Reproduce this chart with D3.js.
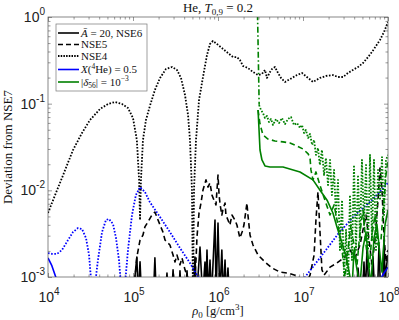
<!DOCTYPE html>
<html><head><meta charset="utf-8">
<script src="https://cdn.jsdelivr.net/npm/d3@7/dist/d3.min.js"></script>
<style>body{margin:0;background:#fff}svg{display:block}</style>
</head><body><svg id="c" width="399" height="320"></svg>
<script>
// ---------- data ----------
const xTickVals = [1e4, 1e5, 1e6, 1e7, 1e8];
const xTickExps = ["4", "5", "6", "7", "8"];
const yTickVals = [1, 1e-1, 1e-2, 1e-3];
const yTickExps = ["0", "-1", "-2", "-3"];

// NSE4 (black dotted)
const nse4 = [[1e4,5.48e-3],[1.21e4,8.8e-3],[1.46e4,1.39e-2],[1.97e4,2.92e-2],[2.51e4,4.59e-2],[3.12e4,6.48e-2],[4.09e4,8.68e-2],[5.08e4,9.91e-2],[6.14e4,0.1045],[7.42e4,9.91e-2],[8.73e4,8.91e-2],[1e5,6.83e-2],[1.11e5,3.81e-2],[1.18e5,1.32e-2],[1.21e5,4.55e-3],[1.24e5,1.32e-2],[1.31e5,3.81e-2],[1.42e5,6.48e-2],[1.58e5,9.4e-2],[1.81e5,0.144],[2.08e5,0.198],[2.44e5,0.251],[2.88e5,0.265],[3.29e5,0.245],[3.67e5,0.198],[4.09e5,0.126],[4.44e5,7.4e-2],[4.68e5,3.81e-2],[4.94e5,1.01e-2],[5.08e5,5.4e-4],[5.22e5,1.01e-2],[5.51e5,3.81e-2],[5.98e5,0.110],[6.66e5,0.203],[7.42e5,0.364],[8.05e5,0.488],[8.73e5,0.529],[9.73e5,0.488],[1.11e6,0.439],[1.31e6,0.384],[1.5e6,0.345],[1.67e6,0.345],[1.81e6,0.319],[1.97e6,0.272],[2.25e6,0.258],[2.58e6,0.232],[2.96e6,0.214],[3.29e6,0.220],[3.57e6,0.245],[3.77e6,0.198],[4.09e6,0.232],[4.32e6,0.251],[4.68e6,0.265],[5.08e6,0.226],[5.51e6,0.198],[6.14e6,0.178],[7.42e6,0.198],[8.5e6,0.214],[9.73e6,0.226],[1.11e7,0.203],[1.31e7,0.178],[1.58e7,0.198],[1.87e7,0.209],[2.25e7,0.214],[2.58e7,0.203],[2.96e7,0.203],[3.38e7,0.226],[3.87e7,0.245],[4.44e7,0.265],[5.08e7,0.294],[5.82e7,0.345],[6.48e7,0.395],[7.22e7,0.463],[8.05e7,0.543],[8.97e7,0.671],[1e8,0.876]];

// NSE5 (black dashed)
const nse5 = [[1.03e5,7.1e-4],[1.11e5,1.70e-3],[1.21e5,2.67e-3],[1.31e5,3.05e-3],[1.38e5,3.78e-3],[1.5e5,4.31e-3],[1.67e5,5.19e-3],[1.81e5,5.62e-3],[1.97e5,4.55e-3],[2.08e5,3.98e-3],[2.25e5,3.30e-3],[2.38e5,2.67e-3],[2.72e5,2.34e-3],[2.96e5,1.79e-3],[3.12e5,1.49e-3],[3.29e5,1.79e-3],[3.57e5,1.38e-3],[3.77e5,1.66e-3],[4.09e5,1.21e-3],[4.44e5,9.7e-4],[4.81e5,7.1e-4],[5.22e5,7.1e-4],[5.51e5,1.57e-3],[5.66e5,2.90e-3],[5.98e5,5.48e-3],[6.31e5,7.14e-3],[6.66e5,1.01e-2],[7.22e5,1.32e-2],[7.63e5,1.09e-2],[8.05e5,1.22e-2],[8.5e5,8.8e-3],[8.97e5,7.7e-3],[9.47e5,6.8e-3],[1e6,1.50e-2],[1.03e6,8.8e-3],[1.06e6,6.8e-3],[1.11e6,5.19e-3],[1.14e6,5.93e-3],[1.21e6,7.14e-3],[1.24e6,5.19e-3],[1.31e6,4.55e-3],[1.38e6,3.98e-3],[1.46e6,5.19e-3],[1.58e6,4.55e-3],[1.67e6,3.98e-3],[1.81e6,2.82e-3],[1.92e6,3.30e-3],[2.02e6,3.98e-3],[2.19e6,7.14e-3],[2.25e6,5.19e-3],[2.38e6,3.05e-3],[2.58e6,2.34e-3],[2.96e6,1.79e-3],[3.57e6,1.49e-3],[4.32e6,1.27e-3],[5.36e6,1.14e-3],[6.66e6,1.11e-3],[8.05e6,1.05e-3],[9.22e6,9.7e-4],[1.06e7,8.1e-4],[1.21e7,1.05e-3],[1.35e7,1.79e-3],[1.42e7,4.55e-3],[1.5e7,9.6e-3],[1.58e7,3.49e-3],[1.67e7,1.21e-3],[1.77e7,1.05e-3],[2.08e7,1.30e-3],[2.51e7,1.45e-3],[3.12e7,1.70e-3],[3.57e7,2.05e-3],[4.09e7,1.66e-3],[4.68e7,2.34e-3],[5.08e7,3.49e-3],[5.51e7,5.19e-3],[5.98e7,2.67e-3],[6.48e7,1.38e-3],[7.03e7,2.67e-3],[7.63e7,7.7e-3],[8.05e7,1.81e-2],[8.5e7,1.01e-2],[8.97e7,3.05e-3],[9.47e7,1.49e-3],[1e8,2.05e-3]];

// NSE6, A-bar = 20 (black solid): two visible stretches
const nse6Low = [[1.0e5,6e-4],[1.11e5,1.7e-3],[1.15e5,6e-4],[1.21e5,1.5e-3],[1.26e5,6e-4],[1.74e5,6e-4],[1.81e5,1.66e-3],[1.88e5,6e-4],[2.4e5,6e-4],[2.51e5,1.11e-3],[2.62e5,6e-4],[2.85e5,6e-4],[2.96e5,1.21e-3],[3.1e5,6e-4],[3.45e5,6e-4],[3.57e5,1.18e-3],[3.7e5,6e-4],[4.15e5,6e-4],[4.32e5,1.18e-3],[4.5e5,6e-4],[5.15e5,6e-4],[5.36e5,1.7e-3],[5.6e5,6e-4],[6.14e5,2.22e-3],[6.6e5,6e-4],[7.03e5,1.49e-3],[7.2e5,6e-4],[7.42e5,2.05e-3],[7.7e5,6e-4],[8.05e5,1.57e-3],[8.4e5,6e-4],[9.22e5,4.55e-3],[9.5e5,6e-4],[1.0e6,4.19e-3],[1.05e6,6e-4],[1.11e6,2.05e-3],[1.15e6,6e-4],[1.21e6,1.57e-3],[1.25e6,6e-4],[1.31e6,1.27e-3],[1.36e6,6e-4]];
const nse6High = [[4.2e7,6e-4],[4.44e7,1.27e-3],[4.7e7,6e-4],[5.0e7,6e-4],[5.22e7,1.49e-3],[5.4e7,6e-4],[5.66e7,2.05e-3],[6.0e7,6e-4],[6.3e7,6e-4],[6.66e7,1.66e-3],[7.0e7,6e-4],[7.5e7,6e-4],[7.84e7,2.34e-3],[8.2e7,6e-4],[8.6e7,6e-4],[8.97e7,2.67e-3],[9.3e7,8e-4],[9.47e7,1.21e-3],[1e8,1.79e-3]];

// X(4He) = 0.5 (blue)
const heSolidLow = [[1e4,1.66e-3],[1.11e4,1.35e-3],[1.28e4,9e-4],[1.4e4,6e-4]];
const heSolidHigh = [[7.8e7,6e-4],[8.4e7,1e-3],[1e8,1.3e-3]];
const heDottedLow = [[1e4,1.89e-3],[1.11e4,1.85e-3],[1.28e4,1.85e-3],[1.46e4,2.05e-3],[1.72e4,2.67e-3],[1.97e4,3.30e-3],[2.25e4,3.67e-3],[2.51e4,3.58e-3],[2.8e4,2.82e-3],[3.04e4,1.79e-3],[3.21e4,9.3e-4],[3.38e4,5.4e-4],[3.57e4,8.1e-4],[3.87e4,1.57e-3],[4.32e4,3.30e-3],[4.81e4,4.55e-3],[5.22e4,4.67e-3],[5.82e4,4.09e-3],[6.31e4,2.82e-3],[6.84e4,1.57e-3],[7.22e4,8.1e-4],[7.63e4,5.4e-4],[8.05e4,8.1e-4],[8.73e4,2.05e-3],[9.73e4,5.19e-3],[1.08e5,8.8e-3],[1.21e5,1.09e-2],[1.38e5,9.6e-3],[1.58e5,7.3e-3],[2.08e5,4.92e-3],[2.72e5,3.30e-3],[3.57e5,2.16e-3],[4.68e5,1.45e-3],[5.82e5,1.0e-3],[7.03e5,7.1e-4]];
const heDottedHigh = [[9.22e6,7.1e-4],[1.06e7,1.0e-3],[1.58e7,1.66e-3],[2.58e7,3.13e-3],[4.09e7,5.19e-3],[6.48e7,7.7e-3],[1e8,1.22e-2]];

// |delta56| = 1e-3 (green)
const dSolid = [[2.96e6,8.45e-2],[3.04e6,4.97e-2],[3.12e6,2.92e-2],[3.29e6,2.24e-2],[3.57e6,1.91e-2],[4.09e6,1.86e-2],[5.82e6,1.86e-2],[9.22e6,1.63e-2],[1.31e7,1.32e-2],[1.58e7,1.01e-2],[1.92e7,7.7e-3],[2.25e7,5.48e-3],[2.51e7,3.78e-3],[2.88e7,2.47e-3],[3.29e7,1.57e-3],[3.57e7,1.0e-3],[3.77e7,7.1e-4],[3.98e7,2.05e-3],[4.32e7,1.21e-3],[4.68e7,8.1e-4],[5.08e7,2.16e-3],[5.51e7,3.30e-3],[5.98e7,1.27e-3],[6.31e7,8.1e-4],[6.84e7,2.82e-3],[7.42e7,3.98e-3],[8.05e7,1.79e-3],[8.5e7,1.14e-3],[9.22e7,3.98e-3],[1e8,5.93e-3]];
const dDashed = [[2.96e6,8.45e-2],[3.12e6,5.82e-2],[3.38e6,4.35e-2],[3.87e6,3.91e-2],[4.68e6,3.71e-2],[5.82e6,3.62e-2],[7.03e6,3.52e-2],[8.5e6,3.25e-2],[1e7,3.0e-2],[1.15e7,2.63e-2],[1.21e7,2.36e-2],[1.24e7,1.72e-2],[1.31e7,1.32e-2],[1.42e7,1.63e-2],[1.58e7,1.15e-2],[1.81e7,7.7e-3],[2.08e7,5.19e-3],[2.32e7,6.8e-3],[2.58e7,3.98e-3],[2.88e7,2.05e-3],[3.12e7,1.0e-3],[3.38e7,2.05e-3],[3.67e7,3.98e-3],[3.98e7,2.34e-3],[4.32e7,1.38e-3],[4.68e7,3.30e-3],[5.08e7,5.93e-3],[5.51e7,2.34e-3],[5.98e7,1.21e-3],[6.48e7,3.05e-3],[7.03e7,5.19e-3],[7.63e7,2.34e-3],[8.27e7,2.67e-3],[8.97e7,7.7e-3],[9.47e7,1.5e-2],[1e8,2.24e-2]];
const dDotted = [[3.04e6,9.65e-2],[3.21e6,8.45e-2],[3.38e6,7.8e-2],[3.57e6,6.83e-2],[3.77e6,7.21e-2],[3.98e6,6.14e-2],[4.2e6,6.65e-2],[4.44e6,5.68e-2],[4.81e6,6.65e-2],[5.22e6,5.98e-2],[5.66e6,6.83e-2],[6.14e6,5.8e-2],[6.66e6,6.65e-2],[7.22e6,7.02e-2],[7.84e6,5.68e-2],[8.5e6,5.98e-2],[9.22e6,5.24e-2],[9.73e6,5.68e-2],[1.03e7,4.59e-2],[1.08e7,4.97e-2],[1.15e7,4.02e-2],[1.21e7,4.47e-2],[1.28e7,3.34e-2],[1.35e7,3.81e-2],[1.42e7,2.56e-2],[1.5e7,3.08e-2],[1.58e7,1.96e-2],[1.67e7,2.92e-2],[1.77e7,1.5e-2],[1.86e7,2.36e-2],[1.97e7,1.15e-2],[2.08e7,2.24e-2],[2.19e7,8.8e-3],[2.32e7,1.72e-2],[2.44e7,5.19e-3],[2.58e7,1.32e-2],[2.72e7,2.05e-3],[2.88e7,7.7e-3],[3.04e7,1.0e-3],[3.21e7,3.49e-3],[3.38e7,7.1e-4],[3.57e7,8.8e-3],[3.77e7,1.57e-3],[3.98e7,1.96e-2],[4.2e7,2.05e-3],[4.44e7,1.5e-2],[4.68e7,2.67e-3],[4.94e7,2.24e-2],[5.22e7,3.98e-3],[5.51e7,1.96e-2],[5.82e7,2.05e-3],[6.14e7,2.56e-2],[6.48e7,2.67e-3],[6.84e7,2.24e-2],[7.22e7,2.05e-3],[7.63e7,1.72e-2],[8.05e7,7.7e-3],[8.5e7,2.42e-2],[8.97e7,5.19e-3],[9.47e7,2.24e-2],[1e8,2.56e-2]];
const dDashDot = [[2.9e6,1.5],[2.98e6,0.35],[3.05e6,9.7e-2]];

// ---------- drawing ----------
const svg = d3.select("#c");
const L = 48, R = 388, T = 17, B = 277;
const x = d3.scaleLog().domain([1e4, 1e8]).range([L, R]);
const y = d3.scaleLog().domain([1e-3, 1]).range([B, T]);
const SANS = "'Liberation Sans', Arial, sans-serif";
const SERIF = "'Liberation Serif', 'Times New Roman', serif";
const BLUE = "#0000ff", GREEN = "#008000";

svg.append("rect").attr("width", 399).attr("height", 320).attr("fill", "#fff");
svg.append("defs").append("clipPath").attr("id", "clip")
  .append("rect").attr("x", L).attr("y", T).attr("width", R - L).attr("height", B - T);

// ticks
function minors(lo, hi) {
  const out = [];
  for (let e = lo; e < hi; e++) for (let k = 2; k <= 9; k++) out.push(k * Math.pow(10, e));
  return out;
}
const xMin = minors(4, 8), yMin = minors(-3, 0);
function drawAxis(axis, tr, vals, size) {
  const g = svg.append("g").attr("transform", tr)
    .call(axis.tickValues(vals).tickSize(size).tickFormat(""));
  g.select(".domain").remove();
  g.selectAll("line").attr("stroke", "#555").attr("stroke-width", 0.6);
}
drawAxis(d3.axisBottom(x), `translate(0,${B})`, xTickVals, -4);
drawAxis(d3.axisBottom(x), `translate(0,${B})`, xMin, -2.5);
drawAxis(d3.axisTop(x), `translate(0,${T})`, xTickVals, -4);
drawAxis(d3.axisTop(x), `translate(0,${T})`, xMin, -2.5);
drawAxis(d3.axisLeft(y), `translate(${L},0)`, yTickVals, -4);
drawAxis(d3.axisLeft(y), `translate(${L},0)`, yMin, -2.5);
drawAxis(d3.axisRight(y), `translate(${R},0)`, yTickVals, -4);
drawAxis(d3.axisRight(y), `translate(${R},0)`, yMin, -2.5);

// tick labels
xTickVals.forEach((v, i) => {
  const t = svg.append("text").attr("x", x(v) + 1).attr("y", 302)
    .attr("text-anchor", "middle").attr("font-family", SANS).attr("font-size", 14).attr("fill", "#222");
  t.append("tspan").text("10");
  t.append("tspan").attr("dy", -7).attr("font-size", 10).text(xTickExps[i]);
});
yTickVals.forEach((v, i) => {
  const t = svg.append("text").attr("x", 45).attr("y", y(v) + 5)
    .attr("text-anchor", "end").attr("font-family", SANS).attr("font-size", 14).attr("fill", "#222");
  t.append("tspan").text("10");
  t.append("tspan").attr("dy", -7).attr("font-size", 10).text(yTickExps[i]);
});

// lines
const line = d3.line().x(d => x(d[0])).y(d => y(d[1]));
const plot = svg.append("g").attr("clip-path", "url(#clip)");
function draw(data, color, dash, w) {
  plot.append("path").datum(data).attr("d", line).attr("fill", "none")
    .attr("stroke", color).attr("stroke-width", w || 1.6)
    .attr("stroke-dasharray", dash || null).attr("stroke-linejoin", "round");
}
const DOT = "1.6,1.6", DASH = "5.5,3.5", DASHDOT = "6,2.5,1.5,2.5";
draw(nse6Low, "#000");
draw(nse6High, "#000");
draw(nse5, "#000", DASH);
draw(nse4, "#000", DOT, 1.8);
draw(heSolidLow, BLUE);
draw(heSolidHigh, BLUE);
draw(heDottedLow, BLUE, DOT, 1.8);
draw(heDottedHigh, BLUE, DOT, 1.8);
draw(dSolid, GREEN);
draw(dDashed, GREEN, DASH);
draw(dDotted, GREEN, DOT, 1.8);
draw(dDashDot, GREEN, DASHDOT);

// frame
svg.append("rect").attr("x", L).attr("y", T).attr("width", R - L).attr("height", B - T)
  .attr("fill", "none").attr("stroke", "#555").attr("stroke-width", 0.7);

// title
const title = svg.append("text").attr("x", (L + R) / 2).attr("y", 12)
  .attr("text-anchor", "middle").attr("font-family", SERIF).attr("font-size", 13).attr("fill", "#111");
title.append("tspan").text("He, ");
title.append("tspan").attr("font-style", "italic").text("T");
title.append("tspan").attr("dy", 3).attr("font-size", 9).text("0,9");
title.append("tspan").attr("dy", -3).text(" = 0.2");

// x label
const xl = svg.append("text").attr("x", (L + R) / 2).attr("y", 315)
  .attr("text-anchor", "middle").attr("font-family", SERIF).attr("font-size", 12.5).attr("fill", "#111");
xl.append("tspan").attr("font-style", "italic").text("ρ");
xl.append("tspan").attr("dy", 3).attr("font-size", 9).text("0");
xl.append("tspan").attr("dy", -3).text(" [g/cm");
xl.append("tspan").attr("dy", -5).attr("font-size", 9).text("3");
xl.append("tspan").attr("dy", 5).text("]");

// y label
svg.append("text").attr("transform", `translate(12,${(T + B) / 2}) rotate(-90)`)
  .attr("text-anchor", "middle").attr("font-family", SERIF).attr("font-size", 13).attr("fill", "#111")
  .text("Deviation from NSE7");

// legend
const lg = svg.append("g");
lg.append("rect").attr("x", 56).attr("y", 24).attr("width", 91).attr("height", 67)
  .attr("fill", "#fff").attr("stroke", "#777").attr("stroke-width", 0.7);
const legendRows = [
  { y: 33, color: "#000", dash: null },
  { y: 44.5, color: "#000", dash: "5,3" },
  { y: 56, color: "#000", dash: "1.5,1.2", w: 1.8 },
  { y: 69.5, color: BLUE, dash: null },
  { y: 82, color: GREEN, dash: null }
];
legendRows.forEach(r => {
  lg.append("line").attr("x1", 58).attr("x2", 79).attr("y1", r.y).attr("y2", r.y)
    .attr("stroke", r.color).attr("stroke-width", r.w || 1.6).attr("stroke-dasharray", r.dash);
});
function ltext(yy) {
  return lg.append("text").attr("x", 81).attr("y", yy + 3.8)
    .attr("font-family", SERIF).attr("font-size", 11).attr("fill", "#111");
}
let t1 = ltext(33);
t1.append("tspan").attr("font-style", "italic").text("Ā");
t1.append("tspan").text(" = 20, NSE6");
ltext(44.5).text("NSE5");
ltext(56).text("NSE4");
let t4 = ltext(69.5);
t4.append("tspan").attr("font-style", "italic").text("X");
t4.append("tspan").text("(");
t4.append("tspan").attr("dy", -4).attr("font-size", 7.5).text("4");
t4.append("tspan").attr("dy", 4).text("He) = 0.5");
let t5 = ltext(82);
t5.append("tspan").text("|");
t5.append("tspan").attr("font-style", "italic").text("δ");
t5.append("tspan").attr("dy", 2.5).attr("font-size", 7.5).text("56");
t5.append("tspan").attr("dy", -2.5).text("| = 10");
t5.append("tspan").attr("dy", -4.5).attr("font-size", 7.5).text("−3");
</script></body></html>
